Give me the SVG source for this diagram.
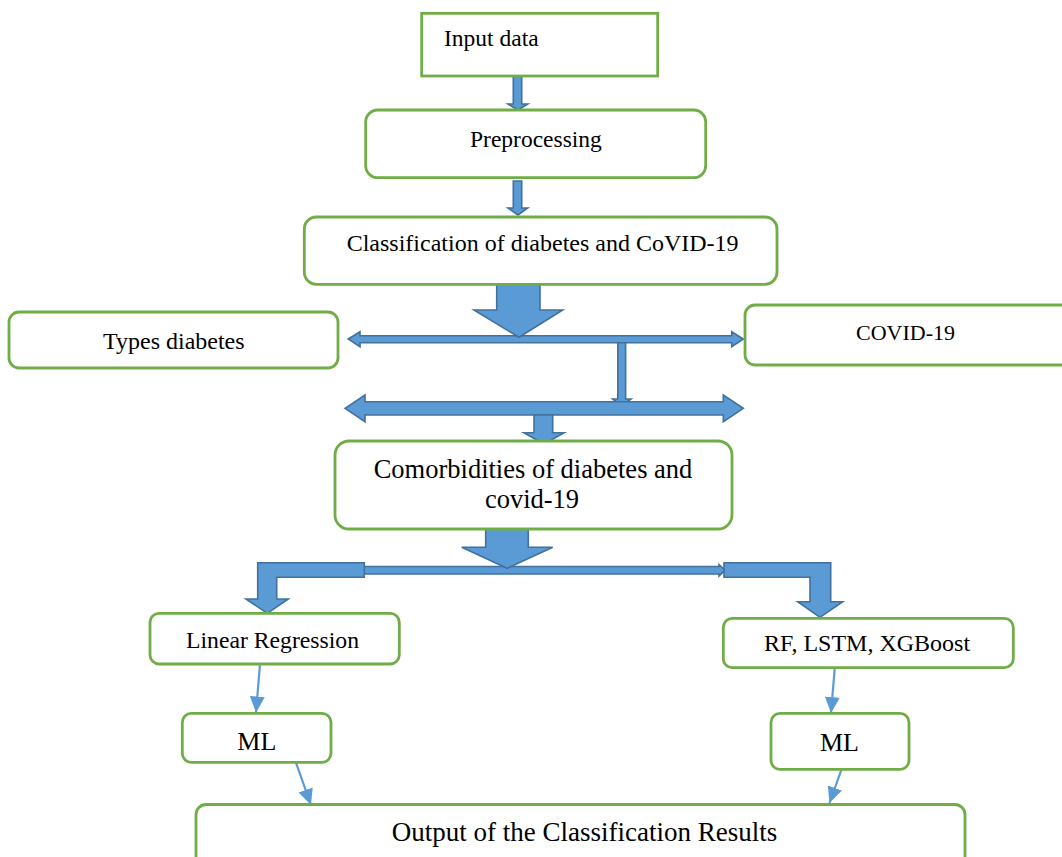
<svg xmlns="http://www.w3.org/2000/svg" width="1062" height="857" viewBox="0 0 1062 857">
<defs>
<style>
.box{fill:#fff;stroke:#70AD47;stroke-width:2.8}
.t{font-family:"Liberation Serif","Times New Roman",serif;fill:#000}
.blk{fill:#5B9BD5;stroke:#41719C;stroke-width:1.6;stroke-linejoin:miter}
.thin{stroke:#5B9BD5;stroke-width:2.2;fill:none}
</style>
<marker id="ah" markerUnits="userSpaceOnUse" markerWidth="18" markerHeight="16" refX="16" refY="7.5" orient="auto">
<path d="M0,0 L16,7.5 L0,15 z" fill="#5B9BD5"/>
</marker>
</defs>
<rect width="1062" height="857" fill="#fff"/>

<g id="connectors">
<polygon class="blk" points="513.3,76 521.7,76 521.7,104 527.7,104 518,110 508,104 513.3,104"/>
<polygon class="blk" points="513.3,181 521.7,181 521.7,208 527.7,208 518,215 508,208 513.3,208"/>
<polygon class="blk" points="348.3,339 360,331.7 360,335.7 731.7,335.7 731.7,331.7 743.3,339 731.7,346.7 731.7,342.7 360,342.7 360,346.7"/>
<polygon class="blk" points="496.7,284 540,284 540,310 562.7,310 519,337.3 474,310 496.7,310"/>
<polygon class="blk" points="617.8,342.7 625.6,342.7 625.6,399 631,399 621.7,406 612.7,399 617.8,399"/>
<polygon class="blk" points="345,408.3 365,395 365,401.7 723.3,401.7 723.3,395 743.3,408.3 723.3,421.7 723.3,415 365,415 365,421.7"/>
<polygon class="blk" points="534,415 552.7,415 552.7,432.7 564,432.7 544,444 524,432.7 534,432.7"/>
<polygon class="blk" points="364,566.5 719,566.5 719,564.5 725,570.2 719,576 719,574 364,574"/>
<polygon class="blk" points="485.7,529 528.3,529 528.3,547.3 552.7,547.3 507.3,568.3 461.7,547.3 485.7,547.3"/>
<polygon class="blk" points="364.3,562.7 364.3,577.3 276.7,577.3 276.7,599 288.3,599 267.3,613.3 246,599 257.7,599 257.7,562.7"/>
<polygon class="blk" points="724,562.7 830.7,562.7 830.7,601.7 842.7,601.7 820,617.3 797.7,601.7 810,601.7 810,577.3 724,577.3"/>
<line class="thin" x1="260" y1="664" x2="256" y2="712.5" marker-end="url(#ah)"/>
<line class="thin" x1="295" y1="760" x2="311" y2="805" marker-end="url(#ah)"/>
<line class="thin" x1="835" y1="665" x2="831" y2="713" marker-end="url(#ah)"/>
<line class="thin" x1="842" y1="768" x2="829.5" y2="803" marker-end="url(#ah)"/>
</g>

<g id="input">
<rect class="box" x="421.7" y="13.3" width="236" height="62.7"/>
<text class="t" x="444" y="46" font-size="23.5">Input data</text>
</g>
<g id="preprocessing">
<rect class="box" x="365.7" y="110" width="340" height="67.7" rx="12"/>
<text class="t" x="470" y="146.5" font-size="23.5">Preprocessing</text>
</g>
<g id="classification">
<rect class="box" x="304.3" y="217" width="472.7" height="67.3" rx="12"/>
<text class="t" x="346.7" y="251" font-size="24">Classification of diabetes and CoVID-19</text>
</g>
<g id="types">
<rect class="box" x="9" y="312" width="329" height="56" rx="10"/>
<text class="t" x="103" y="349" font-size="24">Types diabetes</text>
</g>
<g id="covid">
<rect class="box" x="745" y="305" width="330" height="60" rx="10"/>
<text class="t" x="856" y="340" font-size="22">COVID-19</text>
</g>
<g id="comorbidities">
<rect class="box" x="335" y="441" width="397" height="88" rx="14"/>
<text class="t" x="533" y="478" font-size="26.5" text-anchor="middle">Comorbidities of diabetes and</text>
<text class="t" x="532" y="508" font-size="26.5" text-anchor="middle">covid-19</text>
</g>
<g id="linreg">
<rect class="box" x="150" y="613.3" width="249.3" height="50.7" rx="9"/>
<text class="t" x="186" y="648.3" font-size="23.7">Linear Regression</text>
</g>
<g id="rf">
<rect class="box" x="723.3" y="618.3" width="290" height="49.4" rx="9"/>
<text class="t" x="764" y="651" font-size="24">RF, LSTM, XGBoost</text>
</g>
<g id="ml-left">
<rect class="box" x="182.3" y="713.3" width="148.7" height="49" rx="9"/>
<text class="t" x="237.3" y="750" font-size="26">ML</text>
</g>
<g id="ml-right">
<rect class="box" x="771" y="713.3" width="138" height="56" rx="9"/>
<text class="t" x="820" y="751" font-size="26">ML</text>
</g>
<g id="output">
<rect class="box" x="196" y="804.5" width="769" height="70" rx="10"/>
<text class="t" x="391.7" y="841" font-size="27">Output of the Classification Results</text>
</g>
</svg>
